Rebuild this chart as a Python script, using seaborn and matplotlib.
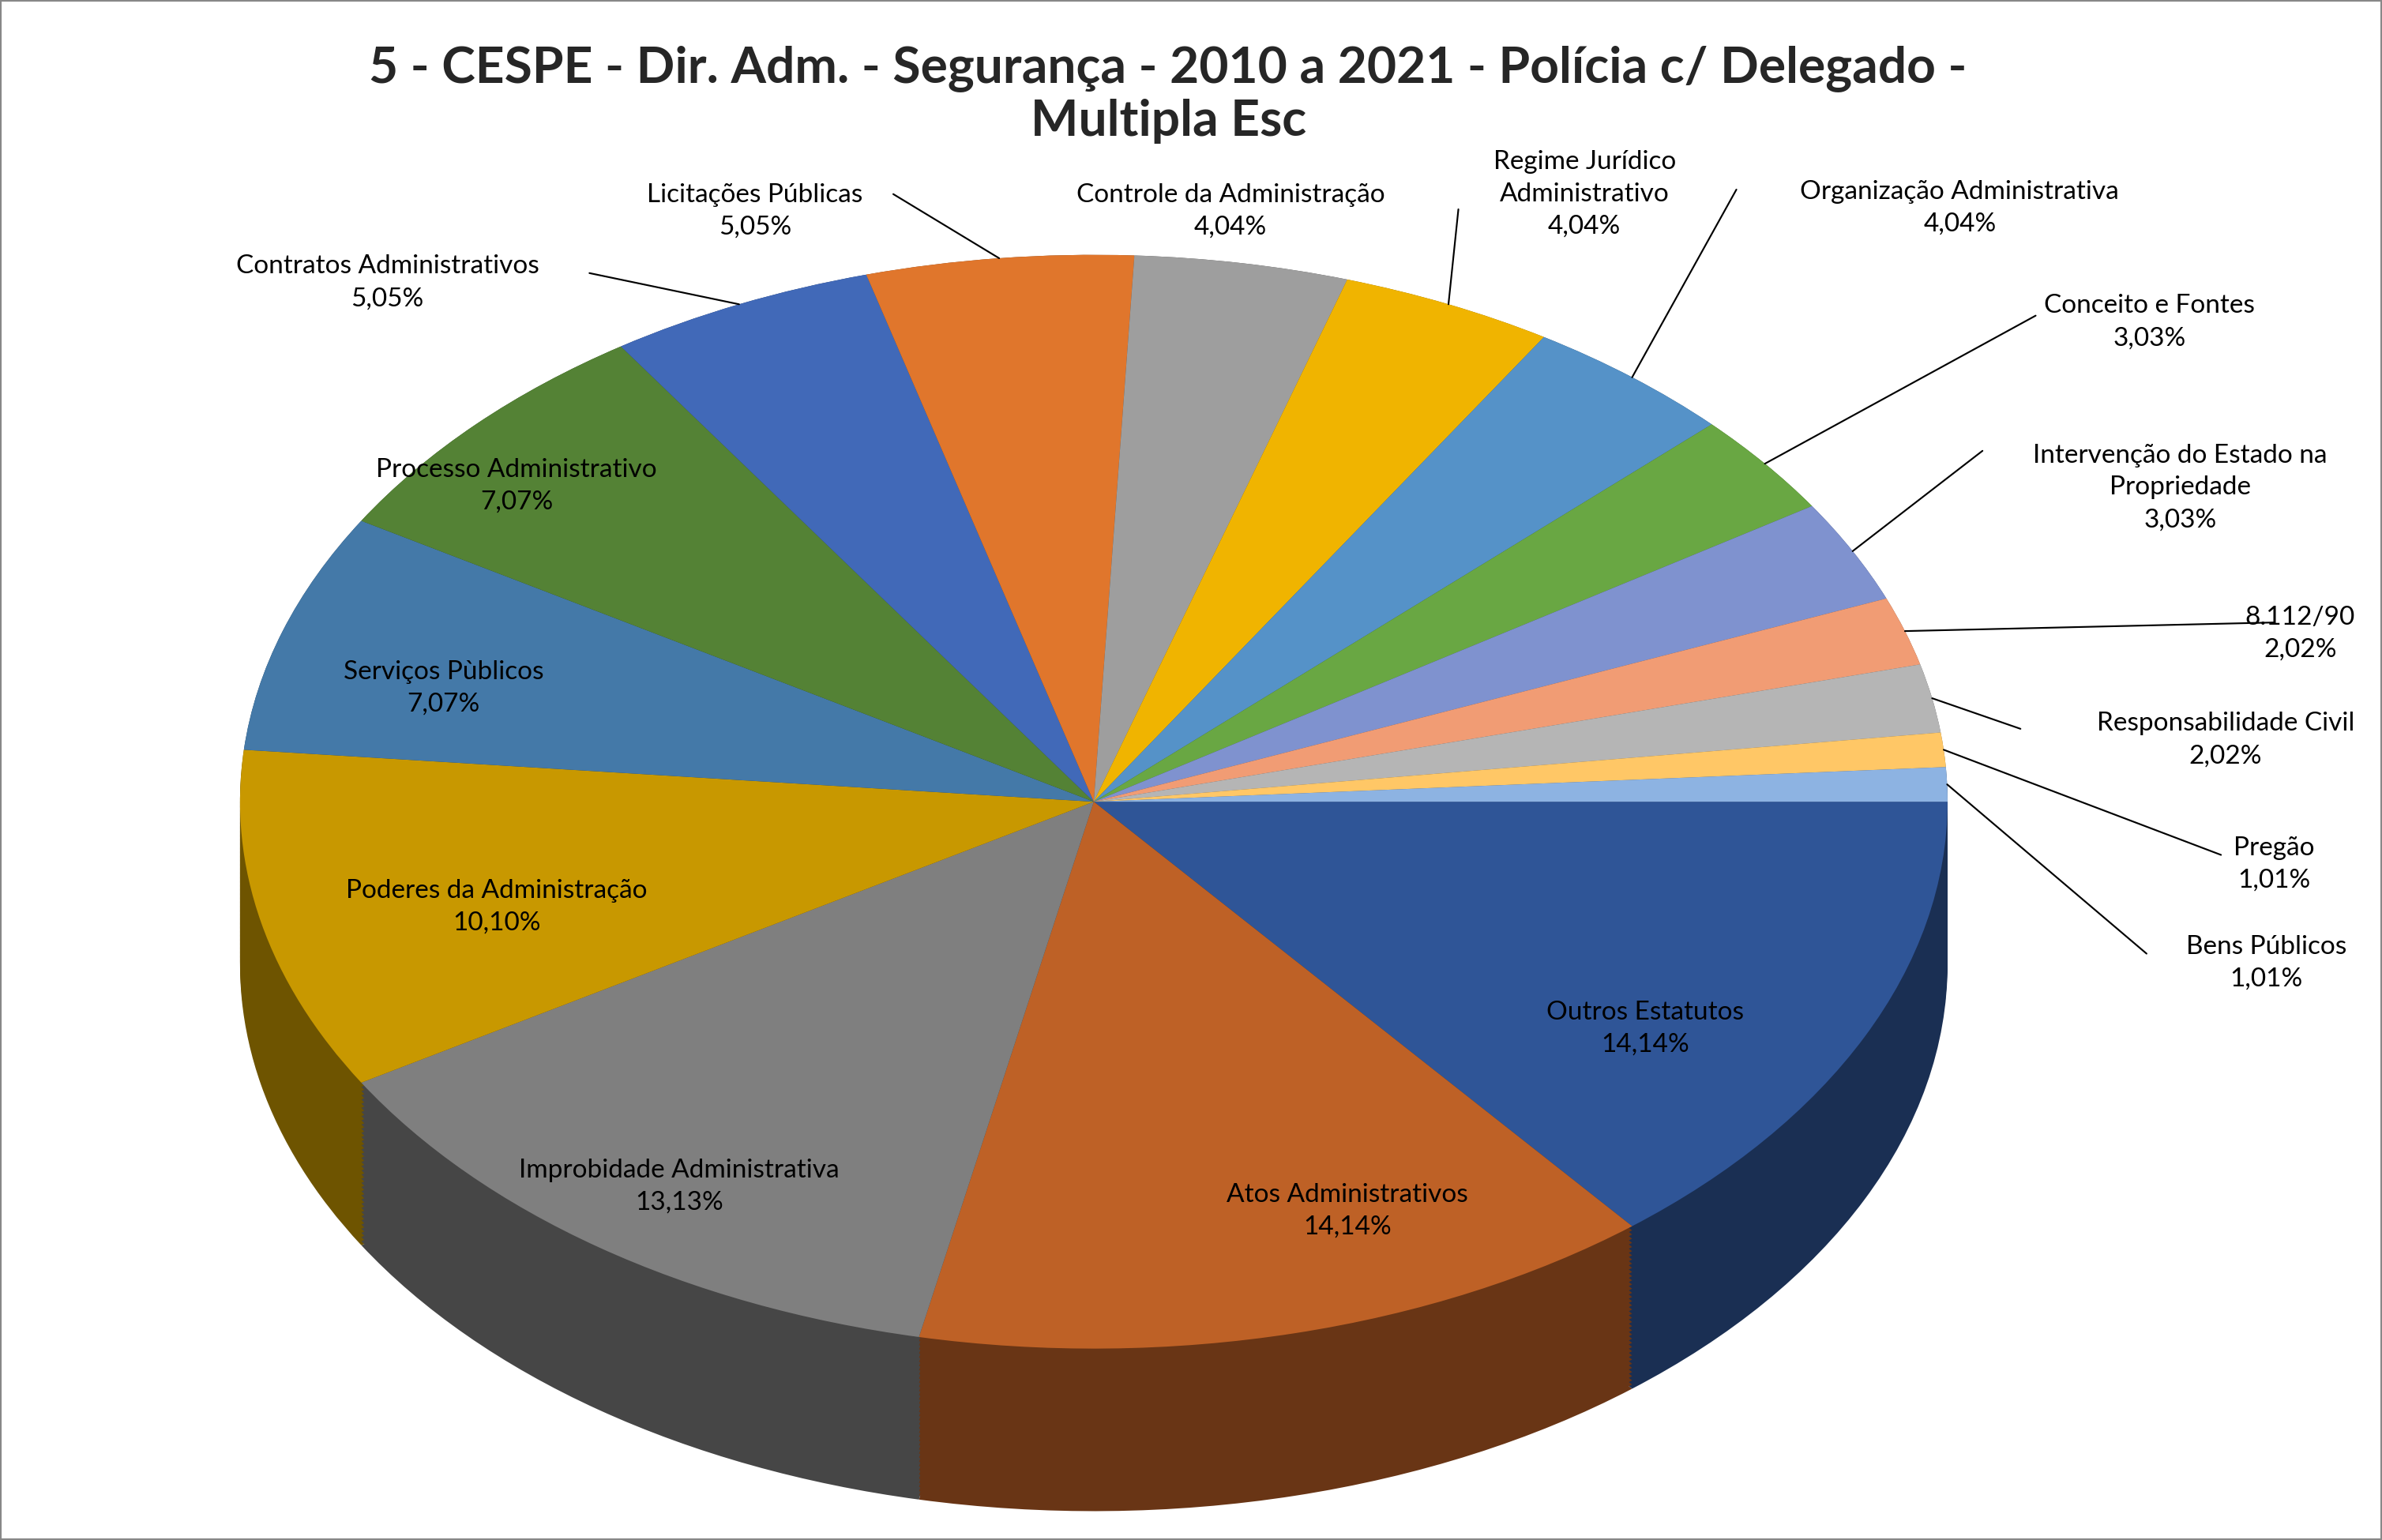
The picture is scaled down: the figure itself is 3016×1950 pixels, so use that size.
import numpy as np
import matplotlib.pyplot as plt
import matplotlib.colors as mcolors
import seaborn as sns

sns.set_theme(style="white")
plt.rcParams['font.family'] = ['Lato', 'DejaVu Sans']

categories = ["Outros Estatutos", "Atos Administrativos", "Improbidade Administrativa",
              "Poderes da Administração", "Serviços Pùblicos", "Processo Administrativo",
              "Contratos Administrativos", "Licitações Públicas", "Controle da Administração",
              "Regime Jurídico\nAdministrativo", "Organização Administrativa", "Conceito e Fontes",
              "Intervenção do Estado na\nPropriedade", "8.112/90", "Responsabilidade Civil",
              "Pregão", "Bens Públicos"]
counts = [14, 14, 13, 10, 7, 7, 5, 5, 4, 4, 4, 3, 3, 2, 2, 1, 1]
colors = ["#2F5597", "#BE6126", "#7F7F7F", "#C89800", "#4479A8", "#548235",
          "#4169B8", "#E0762C", "#9E9E9E", "#F0B400", "#5592C8", "#69A743",
          "#7F92CF", "#F19C74", "#B5B5B5", "#FFC766", "#8DB3E2"]

# label layout in reference pixel coords (1568 x 1014): text centre, leader anchor
label_pos = [(1083, 677), (887, 797), (447, 781), (327, 597), (292, 453), (340, 320),
             (255, 186), (497, 139), (810, 139), (1043, 128), (1290, 137), (1415, 212),
             (1435, 321), (1514, 417), (1465, 487), (1497, 569), (1492, 634)]
anchors = [None] * 6 + [(388, 180), (588, 128), None, (960, 138), (1143, 125), (1340, 208),
                        (1305, 297), (1497, 410), (1330, 480), (1462, 563), (1413, 628)]

W, H = 1568, 1014
cx, cy, rx, ry, depth = 720, 528, 562, 360, 107

fig = plt.figure(figsize=(W / 100, H / 100), dpi=192.35)
fig.patch.set_facecolor("white")

d = depth / ry
ax = fig.add_axes([(cx - rx) / W, (H - (cy + ry + depth)) / H, 2 * rx / W, (2 * ry + depth) / H])
ax.set_xlim(-1, 1)
ax.set_ylim(-1 - d, 1)
ax.axis("off")

dark = [tuple(np.array(mcolors.to_rgb(c)) * 0.55) for c in colors]
for k, off in enumerate(np.linspace(-d, 0, 40)):
    ax.pie(counts, colors=dark, startangle=0, counterclock=False, radius=1,
           center=(0, off), frame=True, wedgeprops=dict(linewidth=0))
wedges, _ = ax.pie(counts, colors=colors, startangle=0, counterclock=False, radius=1,
                   center=(0, 0), frame=True, wedgeprops=dict(linewidth=0))
ax.set_aspect("auto")
ax.set_xlim(-1, 1)
ax.set_ylim(-1 - d, 1)
ax.axis("off")

ov = fig.add_axes([0, 0, 1, 1], facecolor="none")
ov.set_xlim(0, W)
ov.set_ylim(H, 0)
ov.axis("off")
ov.add_patch(plt.Rectangle((0.5, 0.5), W - 1, H - 1, fill=False, ec="#888888", lw=0.8))

total = sum(counts)
for w, name, c, (tx, ty), an in zip(wedges, categories, counts, label_pos, anchors):
    pct = f"{100 * c / total:.2f}%".replace(".", ",")
    ov.text(tx, ty, f"{name}\n{pct}", ha="center", va="center", fontsize=12.5,
            linespacing=1.45, color="black")
    if an is not None:
        th = np.deg2rad((w.theta1 + w.theta2) / 2)
        ex, ey = cx + rx * np.cos(th), cy - ry * np.sin(th)
        ov.plot([an[0], ex], [an[1], ey], color="black", lw=0.8)

ov.text(W / 2 - 15, 62, "5 - CESPE - Dir. Adm. - Segurança - 2010 a 2021 - Polícia c/ Delegado -\nMultipla Esc",
        ha="center", va="center", fontsize=24, fontweight="bold", linespacing=1.2)

fig.savefig("out.png", dpi=192.35)
